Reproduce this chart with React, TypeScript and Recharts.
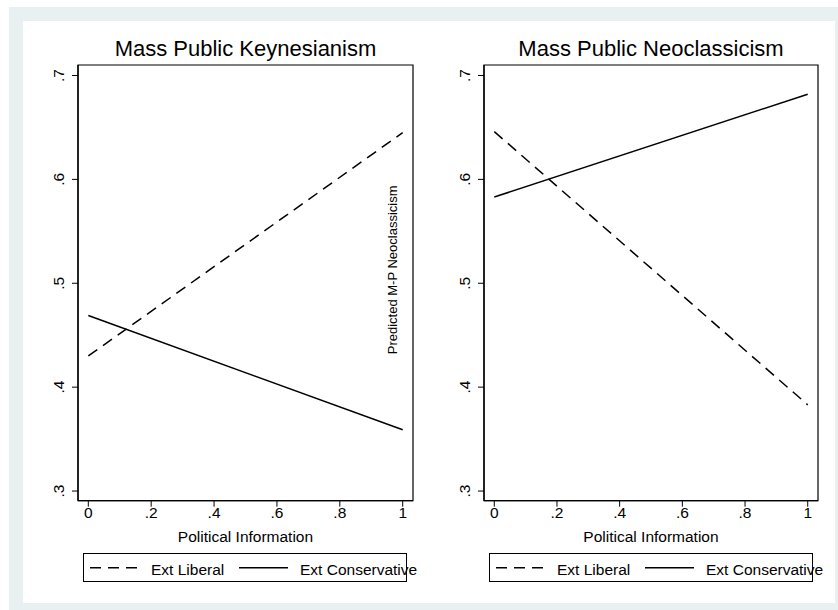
import React from "react";
import { LineChart, Line, XAxis, YAxis, ReferenceArea, Legend } from "recharts";

// predicted values at the ends of the information scale
const infoLevels = [0, 1];
const keynesLiberal = [0.43, 0.645];
const keynesConservative = [0.469, 0.359];
const neoLiberal = [0.646, 0.383];
const neoConservative = [0.583, 0.682];

const xTicks = [0, 0.2, 0.4, 0.6, 0.8, 1];
const xTickLabels = ["0", ".2", ".4", ".6", ".8", "1"];
const yTicks = [0.3, 0.4, 0.5, 0.6, 0.7];
const yTickLabels = [".3", ".4", ".5", ".6", ".7"];

const seriesNames = ["Ext Liberal", "Ext Conservative"];
const panelTitles = ["Mass Public Keynesianism", "Mass Public Neoclassicism"];
const xTitle = "Political Information";
const yTitle = "Predicted M-P Neoclassicism";

const X_DOMAIN: [number, number] = [-0.0328, 1.0328];
const Y_DOMAIN: [number, number] = [0.2907, 0.7101];
const FONT = "'Liberation Sans', Arial, Helvetica, sans-serif";
const DASH = "11 7";

const labelFor = (ticks: number[], labels: string[]) => (v: number) => {
  const i = ticks.findIndex((t) => Math.abs(t - v) < 1e-6);
  return i >= 0 ? labels[i] : String(v);
};
const xLabel = labelFor(xTicks, xTickLabels);
const yLabel = labelFor(yTicks, yTickLabels);

const YTick = (props: any) => {
  const { x, y, payload } = props;
  const bx = x - 7.5;
  return (
    <text
      x={bx}
      y={y}
      transform={`rotate(-90, ${bx}, ${y})`}
      textAnchor="middle"
      fontSize={15.5}
      fontFamily={FONT}
      fill="#000"
    >
      {yLabel(payload.value)}
    </text>
  );
};

const renderLegend = (props: any) => {
  const { payload = [] } = props;
  const items = [...payload].sort(
    (a: any, b: any) => seriesNames.indexOf(a.value) - seriesNames.indexOf(b.value)
  );
  return (
    <svg width={324} height={29} style={{ display: "block", overflow: "visible" }}>
      <rect x={0.5} y={0.5} width={323} height={28} fill="#fff" stroke="#000" />
      {items.map((entry: any, i: number) => {
        const x0 = 7 + i * 149;
        return (
          <g key={entry.value}>
            <line
              x1={x0}
              x2={x0 + 49}
              y1={14.7}
              y2={14.7}
              stroke="#000"
              strokeWidth={1.5}
              strokeDasharray={entry.value === seriesNames[0] ? DASH : undefined}
            />
            <text x={x0 + 61} y={21.5} fontSize={15.5} fontFamily={FONT} fill="#000">
              {entry.value}
            </text>
          </g>
        );
      })}
    </svg>
  );
};

interface PanelProps {
  left: number;
  width: number;
  axisWidth: number;
  marginRight: number;
  liberal: number[];
  conservative: number[];
  showYTitle?: boolean;
}

function Panel({ left, width, axisWidth, marginRight, liberal, conservative, showYTitle }: PanelProps) {
  const data = infoLevels.map((x, i) => ({ x, liberal: liberal[i], conservative: conservative[i] }));
  return (
    <div style={{ position: "absolute", left, top: 0, width, height: 600 }}>
      <LineChart
        width={width}
        height={600}
        data={data}
        margin={{ top: 65, right: marginRight, bottom: 49.3, left: 0 }}
      >
        <XAxis
          dataKey="x"
          type="number"
          domain={X_DOMAIN}
          ticks={xTicks}
          tickFormatter={xLabel}
          allowDataOverflow
          height={50}
          tickSize={6}
          tickMargin={0}
          axisLine={{ stroke: "#000", strokeWidth: 1.3 }}
          tickLine={{ stroke: "#000" }}
          tick={{ fill: "#000", fontSize: 15.5, fontFamily: FONT }}
          label={{
            value: xTitle,
            position: "insideBottom",
            offset: 9,
            fill: "#000",
            fontSize: 15.5,
            fontFamily: FONT,
          }}
        />
        <YAxis
          type="number"
          domain={Y_DOMAIN}
          ticks={yTicks}
          allowDataOverflow
          width={axisWidth}
          tickSize={6}
          tickMargin={0}
          axisLine={{ stroke: "#000", strokeWidth: 1.3 }}
          tickLine={{ stroke: "#000" }}
          tick={<YTick />}
          label={
            showYTitle
              ? {
                  content: (p: any) => {
                    const vb = p.viewBox || {};
                    const cx = vb.x + 12;
                    const cy = vb.y + vb.height / 2 - 13;
                    return (
                      <text
                        x={cx}
                        y={cy}
                        dy={4.6}
                        transform={`rotate(-90, ${cx}, ${cy})`}
                        textAnchor="middle"
                        fontSize={13}
                        fontFamily={FONT}
                        fill="#000"
                      >
                        {yTitle}
                      </text>
                    );
                  },
                }
              : undefined
          }
        />
        <ReferenceArea
          x1={X_DOMAIN[0]}
          x2={X_DOMAIN[1]}
          y1={Y_DOMAIN[0]}
          y2={Y_DOMAIN[1]}
          fill="none"
          stroke="#000"
          strokeWidth={1.2}
          ifOverflow="visible"
        />
        <Line
          dataKey="liberal"
          name={seriesNames[0]}
          type="linear"
          stroke="#000"
          strokeWidth={1.5}
          strokeDasharray={DASH}
          dot={false}
          isAnimationActive={false}
        />
        <Line
          dataKey="conservative"
          name={seriesNames[1]}
          type="linear"
          stroke="#000"
          strokeWidth={1.5}
          dot={false}
          isAnimationActive={false}
        />
        <Legend
          layout="vertical"
          align="center"
          verticalAlign="middle"
          content={renderLegend}
          wrapperStyle={{ left: axisWidth + 5, top: 553, width: 324, height: 29 }}
        />
      </LineChart>
    </div>
  );
}

const titleStyle = (center: number): React.CSSProperties => ({
  position: "absolute",
  left: center - 200,
  width: 400,
  top: 38,
  textAlign: "center",
  fontSize: 22,
  lineHeight: "22px",
  color: "#000",
  whiteSpace: "nowrap",
});

export default function App() {
  return (
    <div
      style={{
        position: "absolute",
        left: 0,
        top: 0,
        width: 838,
        height: 610,
        overflow: "hidden",
        background: "#fff",
        fontFamily: FONT,
      }}
    >
      <div style={{ position: "absolute", left: 9, top: 7, width: 829, height: 603, background: "#e8f0f2" }} />
      <div style={{ position: "absolute", left: 23, top: 21, width: 812, height: 582, background: "#fff" }} />
      <div style={titleStyle(245.5)}>{panelTitles[0]}</div>
      <div style={titleStyle(651)}>{panelTitles[1]}</div>
      <Panel
        left={0}
        width={423}
        axisWidth={78}
        marginRight={10}
        liberal={keynesLiberal}
        conservative={keynesConservative}
      />
      <Panel
        left={380}
        width={450}
        axisWidth={104}
        marginRight={12}
        liberal={neoLiberal}
        conservative={neoConservative}
        showYTitle
      />
    </div>
  );
}
